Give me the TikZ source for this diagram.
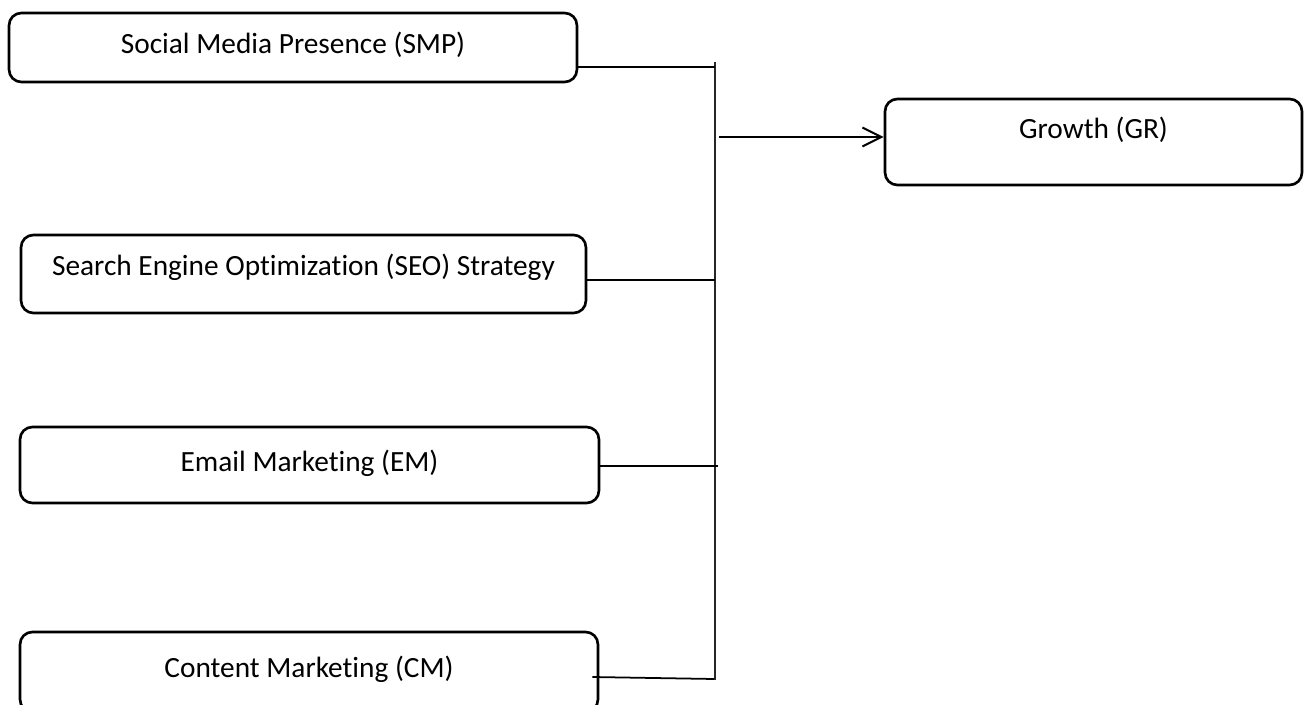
\documentclass[tikz,border=0pt]{standalone}
\usepackage{fontspec}
\setmainfont[Ligatures=NoCommon]{Carlito}
\usetikzlibrary{
    arrows.meta,
    positioning,
    calc
}

\begin{document}
\begin{tikzpicture}[
    x=0.02cm,
    y=-0.02cm,
    every node/.style={
        font=\fontsize{16.7pt}{19pt}\selectfont
    },
    box/.style={
        rectangle,
        rounded corners=7pt,
        draw=black,
        line width=1.5pt,
        inner sep=0pt,
        anchor=base,
        align=center,
        fill=white
    },
    link/.style={
        line width=1pt,
        draw=black
    },
    bus/.style={
        line width=0.6pt,
        draw=black!85
    },
    flow/.style={
        -{Straight Barb[length=3.8mm,width=3.8mm,line width=1.2pt]},
        line width=1.2pt,
        draw=black
    }
]

\useasboundingbox (0,0) rectangle (1305,705);

% ===========================================================
% LEFT COLUMN: marketing factors
% ===========================================================

\node[box, minimum width=11.36cm, text height=0.82cm, text depth=0.56cm]
    (smp) at (293,54) {Social Media Presence (SMP)};

\node[box, minimum width=11.30cm, text height=0.82cm, text depth=0.74cm]
    (seo) at (303.5,276) {Search Engine Optimization (SEO) Strategy};

\node[box, minimum width=11.58cm, text height=0.90cm, text depth=0.62cm]
    (em) at (309.5,472) {Email Marketing (EM)};

\node[box, minimum width=11.56cm, text height=0.90cm, text depth=0.70cm]
    (cm) at (309,677) {Content Marketing (CM)};

% ===========================================================
% RIGHT: outcome
% ===========================================================

\node[box, minimum width=8.34cm, text height=0.80cm, text depth=0.92cm]
    (gr) at (1093.5,139) {Growth (GR)};

% Collecting bar
\coordinate (bustop) at (715,62);
\coordinate (busbot) at (715,680);
\draw[bus] (bustop) -- (busbot);

% Joints on the bar
\coordinate (jsmp) at (715,67);
\coordinate (jseo) at (715,280);
\coordinate (jem) at (718,466);
\coordinate (jcm) at (714,679);
\coordinate (jgr) at (719,137);

% Factor lines into the bar
\draw[link] (smp.east |- jsmp) -- (jsmp);
\draw[link] (seo.east |- jseo) -- (jseo);
\draw[link] (em.east |- jem) -- (jem);
\draw[link] ($(cm.east |- jcm)+(-7,-2)$) -- (jcm);

% Bar to growth
\draw[flow] (jgr) -- (gr.west |- jgr);

\end{tikzpicture}
\end{document}
